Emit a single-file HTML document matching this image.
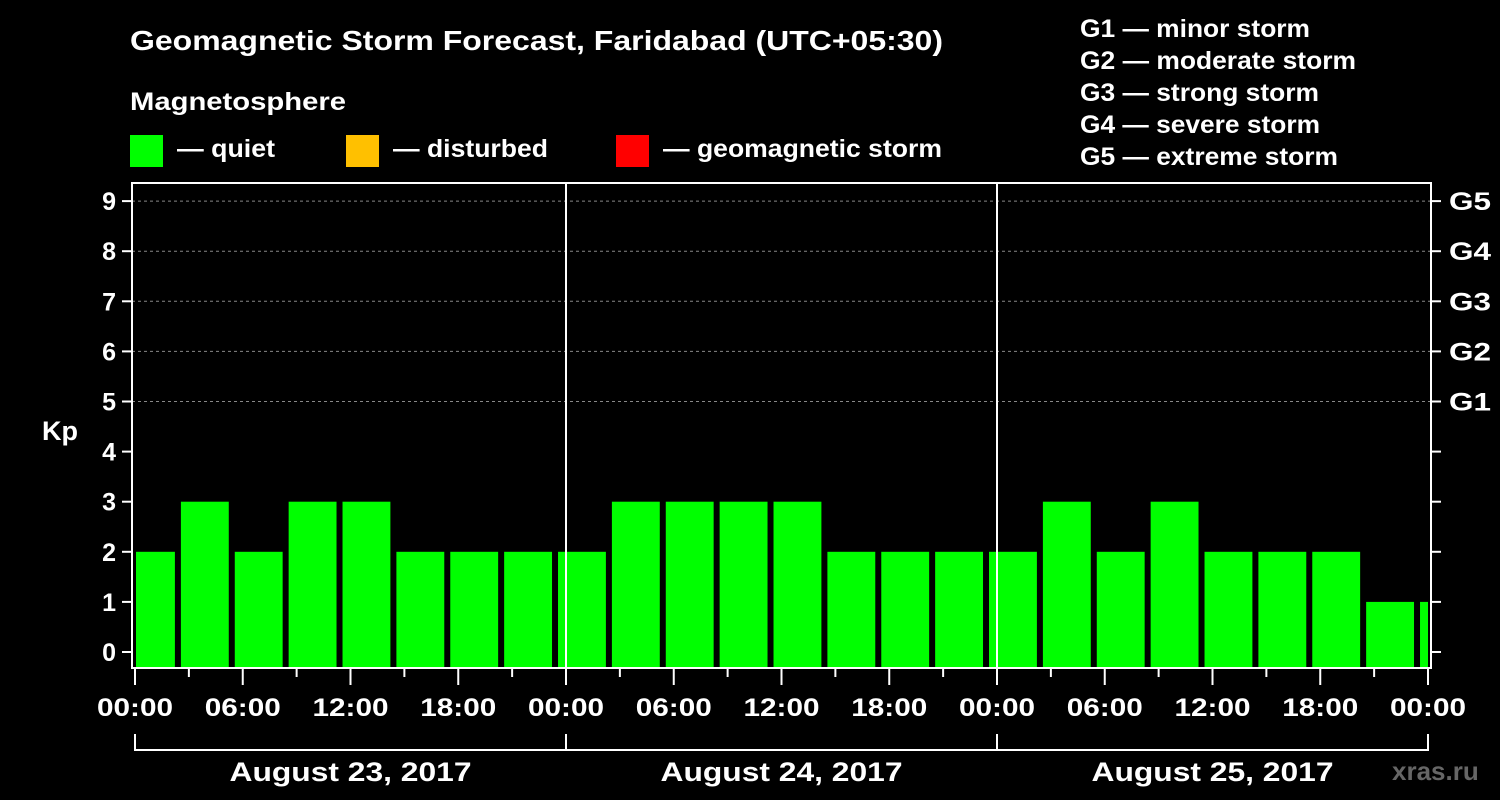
<!DOCTYPE html>
<html><head><meta charset="utf-8"><style>
html,body{margin:0;padding:0;background:#000;}
svg{display:block;font-family:"Liberation Sans",Arial,sans-serif;font-weight:bold;}
</style></head><body>
<svg id="chart" width="1500" height="800" viewBox="0 0 1500 800">
<rect width="1500" height="800" fill="#000"/>
<text x="130" y="50" fill="#fff" font-size="28" textLength="813" lengthAdjust="spacingAndGlyphs">Geomagnetic Storm Forecast, Faridabad (UTC+05:30)</text>
<text x="130" y="110" fill="#fff" font-size="25" textLength="216" lengthAdjust="spacingAndGlyphs">Magnetosphere</text>
<g><rect x="130" y="135" width="33" height="32" fill="#00ff00"/><text x="177" y="157" fill="#fff" font-size="25" textLength="98" lengthAdjust="spacingAndGlyphs">— quiet</text></g>
<g><rect x="346" y="135" width="33" height="32" fill="#ffc000"/><text x="393" y="157" fill="#fff" font-size="25" textLength="155" lengthAdjust="spacingAndGlyphs">— disturbed</text></g>
<g><rect x="616" y="135" width="33" height="32" fill="#ff0000"/><text x="663" y="157" fill="#fff" font-size="25" textLength="279" lengthAdjust="spacingAndGlyphs">— geomagnetic storm</text></g>
<g fill="#fff" font-size="25">
<text x="1080" y="37" textLength="230" lengthAdjust="spacingAndGlyphs">G1 — minor storm</text>
<text x="1080" y="69" textLength="276" lengthAdjust="spacingAndGlyphs">G2 — moderate storm</text>
<text x="1080" y="101" textLength="239" lengthAdjust="spacingAndGlyphs">G3 — strong storm</text>
<text x="1080" y="133" textLength="240" lengthAdjust="spacingAndGlyphs">G4 — severe storm</text>
<text x="1080" y="165" textLength="258" lengthAdjust="spacingAndGlyphs">G5 — extreme storm</text>
</g>
<text x="42" y="440" fill="#fff" font-size="27">Kp</text>
<text x="1392" y="780" fill="#666" font-size="26">xras.ru</text>
<g id="plot"></g>
</svg>
<script>
const kpValues = [2,3,2,3,3,2,2,2,2,3,3,3,3,2,2,2,2,3,2,3,2,2,2,1,1];
const barStartHours = -0.5;
const yTicks = [0,1,2,3,4,5,6,7,8,9];
const gLabels = ["G1","G2","G3","G4","G5"];
const gLevels = [5,6,7,8,9];
const xTickLabels = ["00:00","06:00","12:00","18:00","00:00","06:00","12:00","18:00","00:00","06:00","12:00","18:00","00:00"];
const days = ["August 23, 2017","August 24, 2017","August 25, 2017"];

const NS="http://www.w3.org/2000/svg";
const plotG=document.getElementById('plot');
const X0=135, PX_H=(1428-135)/72;
const xs=h=>X0+h*PX_H;
const ys=k=>652-k*50.1;
const pLeft=132,pRight=1431,pTop=183,pBottom=668;
function mk(t,a){const e=document.createElementNS(NS,t);for(const k in a)e.setAttribute(k,a[k]);plotG.appendChild(e);return e;}

gLevels.forEach(k=>{const l=mk('line',{x1:pLeft,x2:pRight,y1:ys(k),y2:ys(k),stroke:'#888','stroke-dasharray':'3,3','stroke-width':1});

});
kpValues.forEach((v,i)=>{
  const s=Math.max(0,barStartHours+3*i), e=Math.min(72,barStartHours+3*i+3);
  const x1=xs(s)+1, x2=xs(e)-(e>=72?0:5);
  const c=v>=5?'#ff0000':(v>=4?'#ffc000':'#00ff00');
  const r=mk('rect',{x:x1,y:ys(v),width:x2-x1,height:pBottom-ys(v),fill:c});
  
  
});
[24,48].forEach(h=>{const l=mk('line',{x1:xs(h),x2:xs(h),y1:pTop,y2:pBottom,stroke:'#fff','stroke-width':2});

});
const fr=mk('rect',{x:pLeft,y:pTop,width:pRight-pLeft,height:pBottom-pTop,fill:'none',stroke:'#fff','stroke-width':2});


yTicks.forEach(k=>{
  mk('line',{x1:122,x2:pLeft,y1:ys(k),y2:ys(k),stroke:'#fff','stroke-width':2});
  mk('line',{x1:pRight,x2:1441,y1:ys(k),y2:ys(k),stroke:'#fff','stroke-width':2});
  const t=mk('text',{x:116,y:ys(k)+9,fill:'#fff','font-size':25,'text-anchor':'end'});t.textContent=k;
  
  
});
gLabels.forEach((lab,i)=>{const t=mk('text',{x:1449,y:ys(gLevels[i])+9,fill:'#fff','font-size':25,textLength:42,lengthAdjust:'spacingAndGlyphs'});t.textContent=lab;

});
for(let h=0;h<=72;h+=3){const major=h%6===0;mk('line',{x1:xs(h),x2:xs(h),y1:pBottom,y2:major?685:677,stroke:'#fff','stroke-width':2});}
xTickLabels.forEach((lab,i)=>{const t=mk('text',{x:xs(i*6),y:716,fill:'#fff','font-size':25,'text-anchor':'middle',textLength:76,lengthAdjust:'spacingAndGlyphs'});t.textContent=lab;

});
days.forEach((d,i)=>{
  const a=xs(i*24),b=xs(i*24+24);
  mk('path',{d:`M${a} 734V750H${b}V734`,stroke:'#fff','stroke-width':2,fill:'none'});
  const t=mk('text',{x:(a+b)/2,y:781,fill:'#fff','font-size':27,'text-anchor':'middle',textLength:242,lengthAdjust:'spacingAndGlyphs'});t.textContent=d;
  
  
});
</script>
</body></html>
